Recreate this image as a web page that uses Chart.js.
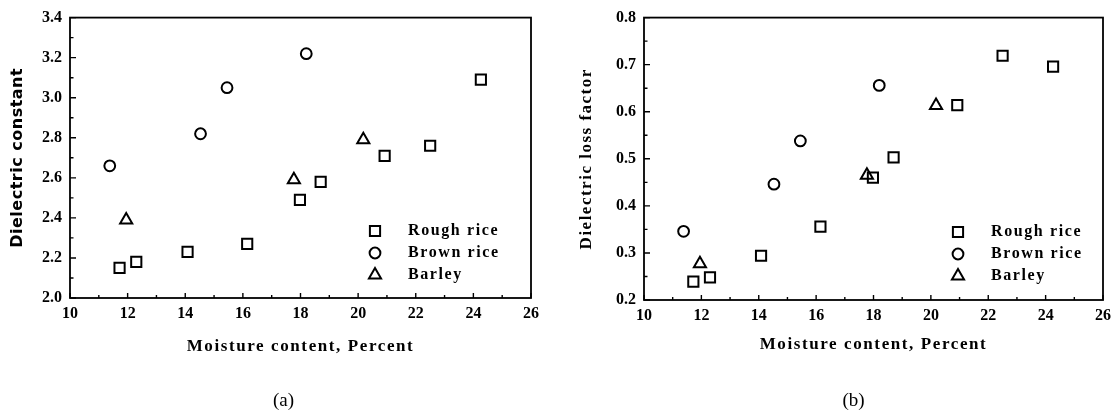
<!DOCTYPE html>
<html>
<head>
<meta charset="utf-8">
<script src="https://cdn.jsdelivr.net/npm/chart.js@4.4.1/dist/chart.umd.min.js"></script>
<style>
  html, body { margin: 0; padding: 0; background: #fff; }
  #wrap { position: relative; width: 1120px; height: 412px; }
  .panel { position: absolute; top: 0; width: 560px; height: 412px; }
</style>
</head>
<body>
<div id="wrap">
  <div class="panel" style="left:0"><canvas id="chartA" width="560" height="412"></canvas></div>
  <div class="panel" style="left:560px"><canvas id="chartB" width="560" height="412"></canvas></div>
</div>
<script>
// Nem içeriği (%) - her seri için
const roughMoisture = [11.72, 12.3, 14.08, 16.15, 17.98, 18.7, 20.92, 22.5, 24.26];
const brownMoisture = [11.38, 14.53, 15.45, 18.2];
const barleyMoisture = [11.95, 17.77, 20.18];

// (a) Dielektrik sabiti
const roughConstant = [2.15, 2.18, 2.23, 2.27, 2.49, 2.58, 2.71, 2.76, 3.09];
const brownConstant = [2.66, 2.82, 3.05, 3.22];
const barleyConstant = [2.39, 2.59, 2.79];

// (b) Dielektrik kayıp faktörü
const roughLoss = [0.239, 0.248, 0.294, 0.356, 0.46, 0.503, 0.614, 0.719, 0.696];
const brownLoss = [0.346, 0.446, 0.538, 0.656];
const barleyLoss = [0.277, 0.465, 0.613];

const seriesNames = ['Rough rice', 'Brown rice', 'Barley'];
const xTicks = [10, 12, 14, 16, 18, 20, 22, 24, 26];
const constantTicks = [2.0, 2.2, 2.4, 2.6, 2.8, 3.0, 3.2, 3.4];
const lossTicks = [0.2, 0.3, 0.4, 0.5, 0.6, 0.7, 0.8];

const serif = '"Liberation Serif", "Times New Roman", serif';
const markerStyles = [
    { pointStyle: 'rect', radius: 7.2 },
    { pointStyle: 'circle', radius: 5.4 },
    { pointStyle: 'triangle', radius: 7 }
];

function toPoints(xs, ys) {
    return xs.map((x, i) => ({ x: x, y: ys[i] }));
}

function makeDatasets(rough, brown, barley) {
    const lists = [toPoints(roughMoisture, rough), toPoints(brownMoisture, brown), toPoints(barleyMoisture, barley)];
    return lists.map((data, i) => ({
        label: seriesNames[i],
        data: data,
        pointStyle: markerStyles[i].pointStyle,
        pointRadius: markerStyles[i].radius,
        pointBorderColor: '#000',
        pointBackgroundColor: 'rgba(0,0,0,0)',
        pointBorderWidth: 2
    }));
}

function minorValues(ticks) {
    const out = [];
    for (let i = 0; i < ticks.length - 1; i++) out.push((ticks[i] + ticks[i + 1]) / 2);
    return out;
}

function drawMarker(ctx, style, radius, x, y) {
    if (Chart.helpers && Chart.helpers.drawPoint) {
        Chart.helpers.drawPoint(ctx, { pointStyle: style, radius: radius, rotation: 0, borderWidth: 2 }, x, y);
    }
}

// Çerçeve, içe dönük tikler, başlıklar ve lejant
const decorPlugin = {
    id: 'decor',
    afterDraw(chart, args, opts) {
        const ctx = chart.ctx;
        const a = chart.chartArea;
        const xs = chart.scales.x;
        const ys = chart.scales.y;
        ctx.save();
        ctx.strokeStyle = '#000';
        ctx.lineWidth = 1.8;
        ctx.strokeRect(a.left, a.top, a.right - a.left, a.bottom - a.top);

        ctx.lineWidth = 1.4;
        ctx.beginPath();
        xTicks.forEach(v => { const p = xs.getPixelForValue(v); ctx.moveTo(p, a.bottom); ctx.lineTo(p, a.bottom - 5); });
        minorValues(xTicks).forEach(v => { const p = xs.getPixelForValue(v); ctx.moveTo(p, a.bottom); ctx.lineTo(p, a.bottom - 3); });
        opts.yTicks.forEach(v => { const p = ys.getPixelForValue(v); ctx.moveTo(a.left, p); ctx.lineTo(a.left + 6, p); });
        minorValues(opts.yTicks).forEach(v => { const p = ys.getPixelForValue(v); ctx.moveTo(a.left, p); ctx.lineTo(a.left + 3.5, p); });
        ctx.stroke();

        // Eksen başlıkları
        ctx.fillStyle = '#000';
        ctx.textAlign = 'center';
        ctx.textBaseline = 'middle';
        ctx.font = 'bold 17px ' + serif;
        ctx.letterSpacing = '1.6px';
        ctx.fillText('Moisture content, Percent', (a.left + a.right) / 2, opts.xTitleY);

        ctx.save();
        ctx.translate(opts.yTitleX, (a.top + a.bottom) / 2);
        ctx.rotate(-Math.PI / 2);
        ctx.font = opts.yTitleFont;
        ctx.letterSpacing = opts.yTitleSpacing;
        ctx.fillText(opts.yTitle, 0, 0);
        ctx.restore();

        // Alt yazı (a)/(b): grafik alanının ortasına göre
        ctx.letterSpacing = '0px';
        ctx.font = '19px ' + serif;
        ctx.fillText(opts.caption, (a.left + a.right) / 2 + opts.captionShift, opts.captionY);

        // Lejant
        ctx.textAlign = 'left';
        ctx.font = 'bold 16px ' + serif;
        ctx.letterSpacing = '1.6px';
        ctx.strokeStyle = '#000';
        ctx.lineWidth = 2;
        seriesNames.forEach((name, i) => {
            const y = opts.legendY + i * 22;
            ctx.fillStyle = 'rgba(0,0,0,0)';
            drawMarker(ctx, markerStyles[i].pointStyle, markerStyles[i].radius, a.right - opts.legendMarkerOffset, y);
            ctx.fillStyle = '#000';
            ctx.fillText(name, a.right - opts.legendMarkerOffset + 33, y);
        });
        ctx.restore();
    }
};

function makeChart(id, datasets, yMin, yMax, yTicks, yWidth, xHeight, padding, decor) {
    return new Chart(document.getElementById(id), {
        type: 'scatter',
        data: { datasets: datasets },
        options: {
            responsive: false,
            animation: false,
            events: [],
            layout: { padding: padding },
            plugins: {
                legend: { display: false },
                tooltip: { enabled: false },
                decor: Object.assign({ yTicks: yTicks }, decor)
            },
            scales: {
                x: {
                    type: 'linear',
                    min: 10,
                    max: 26,
                    afterBuildTicks: s => { s.ticks = xTicks.map(v => ({ value: v })); },
                    afterFit: s => { s.height = xHeight; },
                    grid: { display: false, drawTicks: false },
                    border: { display: false },
                    ticks: {
                        color: '#000',
                        padding: 6,
                        maxRotation: 0,
                        font: { family: serif, size: 16, weight: 'bold' },
                        callback: v => String(v)
                    }
                },
                y: {
                    type: 'linear',
                    min: yMin,
                    max: yMax,
                    afterBuildTicks: s => { s.ticks = yTicks.map(v => ({ value: v })); },
                    afterFit: s => { s.width = yWidth; },
                    grid: { display: false, drawTicks: false },
                    border: { display: false },
                    ticks: {
                        color: '#000',
                        padding: 8,
                        font: { family: serif, size: 16, weight: 'bold' },
                        callback: v => v.toFixed(1)
                    }
                }
            }
        },
        plugins: [decorPlugin]
    });
}

makeChart('chartA', makeDatasets(roughConstant, brownConstant, barleyConstant),
    2.0, 3.4, constantTicks, 70, 114, { top: 15, right: 29, left: 0, bottom: 0 },
    {
        yTitle: 'Dielectric constant',
        yTitleX: 18,
        yTitleFont: 'bold 16px "DejaVu Sans", sans-serif',
        yTitleSpacing: '0.5px',
        xTitleY: 347,
        caption: '(a)',
        captionShift: -17,
        captionY: 401,
        legendY: 231,
        legendMarkerOffset: 156
    });

makeChart('chartB', makeDatasets(roughLoss, brownLoss, barleyLoss),
    0.2, 0.8, lossTicks, 84, 112, { top: 14, right: 17, left: 0, bottom: 0 },
    {
        yTitle: 'Dielectric loss factor',
        yTitleX: 27,
        yTitleFont: 'bold 17px ' + serif,
        yTitleSpacing: '1.5px',
        xTitleY: 345,
        caption: '(b)',
        captionShift: -20,
        captionY: 401,
        legendY: 232,
        legendMarkerOffset: 145
    });
</script>
</body>
</html>
